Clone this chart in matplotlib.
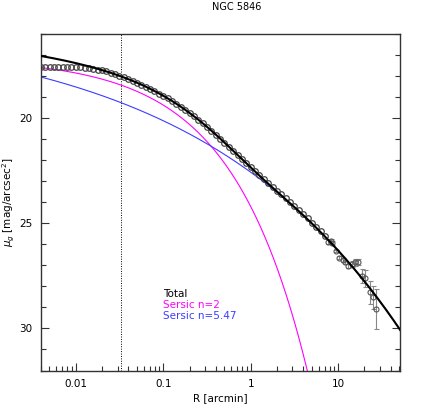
import matplotlib
matplotlib.use('Agg')
import matplotlib.pyplot as plt
import numpy as np
from matplotlib.ticker import FixedLocator, FixedFormatter, LogLocator, NullFormatter, MultipleLocator

title = 'NGC 5846'

# observed profile (inner, error bars smaller than the symbols)
r_prof = [0.00398, 0.00447, 0.00501, 0.00562, 0.00631, 0.00708, 0.00794, 0.00891,
          0.0100, 0.0112, 0.0126, 0.0141, 0.0158, 0.0178, 0.0200, 0.0224, 0.0251,
          0.0282, 0.0316, 0.0355, 0.0398, 0.0447, 0.0501, 0.0562, 0.0631, 0.0708,
          0.0794, 0.0891, 0.100, 0.112, 0.126, 0.141, 0.158, 0.178, 0.200, 0.224,
          0.251, 0.282, 0.316, 0.355, 0.398, 0.447, 0.501, 0.562, 0.631, 0.708,
          0.794, 0.891, 1.00, 1.12, 1.26, 1.41, 1.58, 1.78, 2.00, 2.24, 2.51, 2.82,
          3.16, 3.55, 3.98, 4.47, 5.01, 5.62, 6.31, 7.08]
mu_prof = [17.58, 17.58, 17.58, 17.58, 17.58, 17.58, 17.58, 17.58,
           17.58, 17.59, 17.60, 17.62, 17.65, 17.69, 17.73, 17.78, 17.845,
           17.91, 17.99, 18.06, 18.14, 18.23, 18.32, 18.41, 18.51, 18.61,
           18.71, 18.83, 18.94, 19.06, 19.19, 19.32, 19.46, 19.61, 19.76, 19.92,
           20.08, 20.25, 20.42, 20.60, 20.78, 20.97, 21.16, 21.36, 21.55, 21.75,
           21.94, 22.14, 22.33, 22.52, 22.71, 22.90, 23.09, 23.27, 23.45, 23.63,
           23.82, 24.00, 24.19, 24.38, 24.57, 24.77, 24.97, 25.17, 25.38, 25.59]

# outer profile with visible error bars
r_out = [7.74, 8.2, 8.6, 9.42, 10.35, 11.3, 12.0, 13.1, 14.3, 15.7, 16.8,
         18.7, 20.4, 22.9, 24.9, 27.2]
mu_out = [25.88, 25.86, 25.95, 26.31, 26.63, 26.74, 26.86, 27.02, 26.94, 26.86, 26.83,
          27.50, 27.62, 28.29, 28.52, 29.08]
err_out = [0.12, 0.12, 0.10, 0.06, 0.07, 0.08, 0.09, 0.10, 0.15, 0.15, 0.15,
           0.32, 0.41, 0.55, 0.55, 0.97]

# Sersic components: (mu_e, R_e [arcmin], n)
comp1 = (21.136, 0.3197, 2.0)
comp2 = (26.968, 13.89, 5.47)
comp_labels = ['Sersic n=2', 'Sersic n=5.47']
r_dotted = 0.0333

xticks = [0.01, 0.1, 1, 10]
xtick_labels = ['0.01', '0.1', '1', '10']
yticks = [20, 25, 30]
ytick_labels = ['20', '25', '30']


def sersic(r, mu_e, r_e, n):
    b = 2 * n - 1.0 / 3 + 0.009876 / n
    return mu_e + 2.5 * b / np.log(10) * ((r / r_e) ** (1.0 / n) - 1)


fig = plt.figure(figsize=(4.36, 4.09), dpi=100)
ax = fig.add_axes([41 / 436, 1 - 370.5 / 409, 359 / 436, 336.5 / 409])

rr = np.logspace(np.log10(0.004), np.log10(52), 600)
m1 = sersic(rr, *comp1)
m2 = sersic(rr, *comp2)
tot = -2.5 * np.log10(10 ** (-0.4 * m1) + 10 ** (-0.4 * m2))

ax.axvline(r_dotted, color='black', ls=(0, (1, 1.5)), lw=0.7, zorder=1)

ax.plot(rr, m1, color='#ff00ff', lw=0.8, zorder=2)
ax.plot(rr, m2, color='#3c3cff', lw=0.8, zorder=2)

ax.plot(r_prof, mu_prof, 'o', mfc='none', mec='#444444', ms=4.0, mew=0.9, zorder=3)
ax.errorbar(r_out, mu_out, yerr=err_out, fmt='o', mfc='none', mec='#555555', ms=3.6,
            mew=0.8, ecolor='#888888', elinewidth=0.8, capsize=1.8, capthick=0.8, zorder=3)

ax.plot(rr, tot, color='black', lw=1.5, zorder=4)

ax.set_xscale('log')
ax.set_xlim(0.004, 51)
ax.set_ylim(32, 16)

ax.xaxis.set_major_locator(FixedLocator(xticks))
ax.xaxis.set_major_formatter(FixedFormatter(xtick_labels))
ax.xaxis.set_minor_locator(LogLocator(base=10, subs=np.arange(2, 10)))
ax.xaxis.set_minor_formatter(NullFormatter())
ax.yaxis.set_major_locator(FixedLocator(yticks))
ax.yaxis.set_major_formatter(FixedFormatter(ytick_labels))
ax.yaxis.set_minor_locator(MultipleLocator(1))

ax.tick_params(which='both', direction='in', top=False, right=True, labelsize=7.5,
               width=0.8, colors='#333333', labelcolor='black')
ax.tick_params(which='major', length=5.5, pad=6)
ax.tick_params(which='minor', length=3.5)
for s in ax.spines.values():
    s.set_linewidth(1.0)
    s.set_color('#333333')

ax.set_xlabel('R [arcmin]', fontsize=7.5, labelpad=3)
ax.set_ylabel(r'$\mu_g$ [mag/arcsec$^2$]', fontsize=7.5, labelpad=2)

fig.text(237 / 436, 1 - 6.5 / 409, title, ha='center', va='center', fontsize=7)

ax.text(0.34, 0.226, 'Total', color='black', transform=ax.transAxes, fontsize=7.5, va='center')
ax.text(0.34, 0.195, comp_labels[0], color='#ff00ff', transform=ax.transAxes, fontsize=7.5, va='center')
ax.text(0.34, 0.163, comp_labels[1], color='#3c3cff', transform=ax.transAxes, fontsize=7.5, va='center')

fig.savefig('out.png', dpi=100)
